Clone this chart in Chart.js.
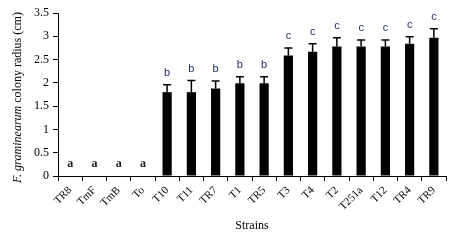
<!DOCTYPE html>
<html>
<head>
<meta charset="utf-8">
<script src="https://cdn.jsdelivr.net/npm/chart.js@4.4.0/dist/chart.umd.min.js"></script>
<style>
  html, body { margin: 0; padding: 0; background: #fff; }
  #wrap { width: 454px; height: 246px; }
</style>
</head>
<body>
<div id="wrap"><canvas id="chart"></canvas></div>
<script>
const strains = ['TR8', 'TmF', 'TmB', 'To', 'T10', 'T11', 'TR7', 'T1', 'TR5', 'T3', 'T4', 'T2', 'T251a', 'T12', 'TR4', 'TR9'];
const radius = [0, 0, 0, 0, 1.8, 1.8, 1.88, 1.99, 1.99, 2.59, 2.67, 2.78, 2.78, 2.78, 2.84, 2.97];
const errUp = [0, 0, 0, 0, 0.16, 0.25, 0.16, 0.14, 0.14, 0.16, 0.17, 0.19, 0.14, 0.14, 0.15, 0.19];
const groups = ['a', 'a', 'a', 'a', 'b', 'b', 'b', 'b', 'b', 'c', 'c', 'c', 'c', 'c', 'c', 'c'];
const yTicks = [0, 0.5, 1, 1.5, 2, 2.5, 3, 3.5];

const serif = '"Liberation Serif", "Times New Roman", serif';

// error bars (upper only, with cap) and group letters
const extras = {
  id: 'extras',
  afterDatasetsDraw(chart) {
    const ctx = chart.ctx;
    const x = chart.scales.x, y = chart.scales.y;
    ctx.save();
    ctx.strokeStyle = '#000';
    ctx.lineWidth = 1.5;
    radius.forEach((v, i) => {
      const cx = x.getPixelForValue(i);
      const yTop = y.getPixelForValue(v + errUp[i]);
      if (errUp[i] > 0) {
        ctx.beginPath();
        ctx.moveTo(cx, y.getPixelForValue(v));
        ctx.lineTo(cx, yTop);
        ctx.moveTo(cx - 4, yTop);
        ctx.lineTo(cx + 4, yTop);
        ctx.stroke();
      }
      ctx.textAlign = 'center';
      ctx.textBaseline = 'middle';
      if (groups[i] === 'a') {
        ctx.fillStyle = '#1a1a1a';
        ctx.font = 'bold 12px ' + serif;
        ctx.fillText('a', cx, y.getPixelForValue(0) - 12);
      } else {
        ctx.fillStyle = '#1f2f66';
        ctx.font = '11px "Liberation Sans", Arial, sans-serif';
        ctx.fillText(groups[i], cx, yTop - 12);
      }
    });
    // y axis title with italic species name
    const midY = (chart.chartArea.top + chart.chartArea.bottom) / 2 + 3;
    ctx.translate(18, midY);
    ctx.rotate(-Math.PI / 2);
    ctx.fillStyle = '#000';
    ctx.textBaseline = 'middle';
    ctx.textAlign = 'left';
    const p1 = 'F. graminearum';
    const p2 = ' colony radius (cm)';
    ctx.font = 'italic 12px ' + serif;
    const w1 = ctx.measureText(p1).width;
    ctx.font = '12px ' + serif;
    const w2 = ctx.measureText(p2).width;
    const start = -(w1 + w2) / 2;
    ctx.font = 'italic 12px ' + serif;
    ctx.fillText(p1, start, 0);
    ctx.font = '12px ' + serif;
    ctx.fillText(p2, start + w1, 0);
    ctx.restore();
  }
};

new Chart(document.getElementById('chart'), {
  type: 'bar',
  data: {
    labels: strains,
    datasets: [{
      data: radius,
      backgroundColor: '#000',
      borderWidth: 0,
      barPercentage: 0.38,
      categoryPercentage: 1
    }]
  },
  options: {
    responsive: true,
    maintainAspectRatio: false,
    animation: false,
    layout: { padding: { top: 13, right: 8, left: 0, bottom: 0 } },
    plugins: {
      legend: { display: false },
      tooltip: { enabled: false }
    },
    scales: {
      x: {
        grid: { display: true, drawOnChartArea: false, tickLength: 5, color: '#000', offset: true },
        border: { color: '#000', width: 1 },
        ticks: {
          color: '#000',
          font: { family: serif, size: 11 },
          minRotation: 45,
          maxRotation: 45,
          autoSkip: false,
          padding: 3
        },
        title: {
          display: true,
          text: 'Strains',
          color: '#000',
          font: { family: serif, size: 12 },
          padding: { top: 0, bottom: 13 }
        },
        afterFit(scale) { scale.height = 70; }
      },
      y: {
        min: 0,
        max: 3.5,
        afterBuildTicks(scale) { scale.ticks = yTicks.map(v => ({ value: v })); },
        grid: { display: true, drawOnChartArea: false, tickLength: 5, color: '#000' },
        border: { color: '#000', width: 1 },
        ticks: {
          color: '#000',
          font: { family: serif, size: 12 },
          padding: 4,
          callback: v => String(v)
        },
        afterFit(scale) { scale.width = 58; }
      }
    }
  },
  plugins: [extras]
});
</script>
</body>
</html>
